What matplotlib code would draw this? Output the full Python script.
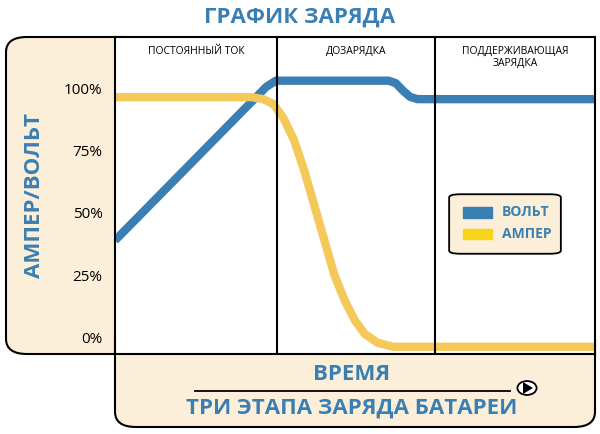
import matplotlib.pyplot as plt
from matplotlib.patches import FancyBboxPatch, Rectangle, Circle

# Данные (время 0..100, проценты)
volt_t = [0, 31.5, 33.5, 57, 58.5, 60, 61.5, 63, 100]
volt_v = [39, 100.5, 103, 103, 102, 99, 96.5, 95.6, 95.6]
amp_t = [0, 28.4, 30.9, 33.0, 35.1, 37.3, 39.4, 41.5, 43.6, 45.7, 47.8, 49.9, 52.0, 54.7, 57.9, 100]
amp_v = [96.4, 96.4, 95.6, 93.6, 88, 79.2, 67.2, 53.2, 39.2, 25.2, 15.2, 7.2, 1.6, -2, -3.6, -3.6]
stage_bounds = [33.7, 66.7]
stage_names = ["ПОСТОЯННЫЙ ТОК", "ДОЗАРЯДКА", "ПОДДЕРЖИВАЮЩАЯ\nЗАРЯДКА"]
yticks = [0, 25, 50, 75, 100]

BLUE = '#3a7fb3'
YELLOW = '#f5c85a'
BEIGE = '#fcefd9'

fig = plt.figure(figsize=(6, 4.34), dpi=100)
W, H = 600, 434

def fx(px):
    return px / W

def fy(py):
    return 1 - py / H

# Бежевые подложки (под осями)
fig.patches.append(FancyBboxPatch((fx(6), fy(354)), fx(115) - fx(6) + 0.05, fy(37) - fy(354),
                                  boxstyle="round,pad=0,rounding_size=0.035", transform=fig.transFigure,
                                  fc=BEIGE, ec='black', lw=1.5, zorder=0))
fig.patches.append(FancyBboxPatch((fx(115), fy(427)), fx(595) - fx(115), fy(350) - fy(427) + 0.06,
                                  boxstyle="round,pad=0,rounding_size=0.035", transform=fig.transFigure,
                                  fc=BEIGE, ec='black', lw=1.5, zorder=0))

ax = fig.add_axes([fx(115), fy(354), fx(595) - fx(115), fy(37) - fy(354)])
ax.set_zorder(2)
ax.set_facecolor('white')
ax.set_xlim(0, 100)
ax.set_ylim(-6.5, 120.5)
ax.plot(volt_t, volt_v, color=BLUE, lw=6, solid_capstyle='butt', solid_joinstyle='round')
ax.plot(amp_t, amp_v, color=YELLOW, lw=6, solid_capstyle='butt', solid_joinstyle='round')
for b in stage_bounds:
    ax.axvline(b, color='black', lw=1.5)
starts = [0] + stage_bounds
ends = stage_bounds + [100]
for s, e, name in zip(starts, ends, stage_names):
    ax.text((s + e) / 2, 117, name, ha='center', va='top', fontsize=7.5, family='Open Sans')
ax.set_xticks([])
ax.set_yticks(yticks)
ax.set_yticklabels([f"{v}%" for v in yticks], fontsize=11, family='Open Sans')
ax.tick_params(axis='y', length=0, pad=9)
for sp in ax.spines.values():
    sp.set_linewidth(1.5)

# Легенда
lax = fig.add_axes([fx(448), fy(255), fx(562) - fx(448), fy(193) - fy(255)])
lax.set_zorder(3)
lax.axis('off')
lax.set_xlim(0, 1)
lax.set_ylim(0, 1)
lax.add_patch(FancyBboxPatch((0.01, 0.02), 0.98, 0.96, boxstyle="round,pad=0,rounding_size=0.1",
                             fc=BEIGE, ec='black', lw=1.3, mutation_aspect=0.5))
lax.add_patch(Rectangle((0.13, 0.6), 0.26, 0.17, color=BLUE))
lax.add_patch(Rectangle((0.13, 0.25), 0.26, 0.17, color='#f7d417'))
lax.text(0.47, 0.69, "ВОЛЬТ", color=BLUE, fontsize=10, fontweight='bold', va='center', family='Open Sans')
lax.text(0.47, 0.34, "АМПЕР", color=BLUE, fontsize=10, fontweight='bold', va='center', family='Open Sans')

# Заголовки
fig.text(0.5, fy(17), "ГРАФИК ЗАРЯДА", color=BLUE, fontsize=16, fontweight='bold',
         ha='center', va='center', family='Open Sans')
fig.text(fx(35), fy(196), "АМПЕР/ВОЛЬТ", color=BLUE, fontsize=16, fontweight='bold',
         ha='center', va='center', rotation=90, family='Open Sans')
fig.text(fx(352), fy(375), "ВРЕМЯ", color=BLUE, fontsize=16, fontweight='bold',
         ha='center', va='center', family='Open Sans')
fig.add_artist(plt.Line2D([fx(195), fx(510)], [fy(391), fy(391)], color='black', lw=1.3))
fig.text(fx(352), fy(408), "ТРИ ЭТАПА ЗАРЯДА БАТАРЕИ", color=BLUE, fontsize=16, fontweight='bold',
         ha='center', va='center', family='Open Sans')
# значок воспроизведения
fig.patches.append(Circle((fx(527), fy(388)), 0.016, transform=fig.transFigure,
                          fc='white', ec='black', lw=1.3))
fig.patches.append(plt.Polygon([[fx(523), fy(382)], [fx(523), fy(394)], [fx(533), fy(388)]],
                               closed=True, transform=fig.transFigure, fc='black'))

fig.savefig('out.png', dpi=100)
